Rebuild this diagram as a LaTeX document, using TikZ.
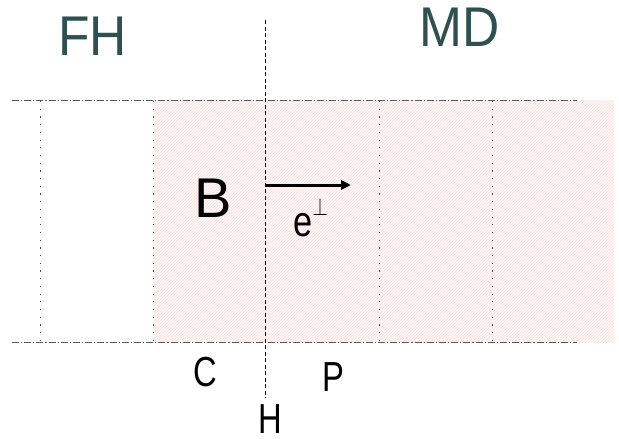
\documentclass[tikz,border=0pt]{standalone}
\usepackage{fontspec}
\setmainfont{Liberation Sans}
\usepackage{tikz}
\usetikzlibrary{patterns, arrows.meta}
\definecolor{slate}{RGB}{47,80,80}
\definecolor{zonebg}{RGB}{255,248,248}
\definecolor{zonehatch}{RGB}{252,222,222}
\tikzstyle{axis}  = [line width=1pt, draw=black!65,
                     dash pattern=on 7pt off 2pt on 1.2pt off 2pt]
\tikzstyle{split} = [line width=1pt, draw=black!70,
                     dash pattern=on 1.2pt off 6.5pt]
\tikzstyle{arrow} = [-{Triangle[length=10pt,width=9pt]}, line width=3pt]

\begin{document}
\begin{tikzpicture}[
  x=1pt, y=-1pt,
  big/.style={inner sep=0pt, font=\fontsize{56}{56}\selectfont},
  head/.style={big, text=slate, xscale=0.92},
  lab/.style={inner sep=0pt, font=\fontsize{42}{42}\selectfont, xscale=0.78}
]
\useasboundingbox (0,0) rectangle (619,439);
% hatched zone
\fill[zonebg] (153,100) rectangle (614,342);
\fill[pattern=north east lines, pattern color=zonehatch] (153,100) rectangle (614,342);
% boundary lines
\draw[axis] (12,100) -- (577,100);
\draw[axis] (12,342) -- (577,342);
\foreach \xx in {40,153,379,492}
  \draw[split] (\xx,101) -- (\xx,340);
\draw[line width=1pt, dash pattern=on 4pt off 2.5pt] (265,20) -- (265,398);
% labels
\node[head] (fh) at (92.5,36.5) {FH};
\node[head] (md) at (459.5,27) {MD};
\node[big]  (b)  at (213,198) {B};
\node[lab]  (c)  at (205.5,372.5) {C};
\node[lab]  (p)  at (333.5,377) {P};
\node[lab]  (h)  at (270,419) {H};
\node[inner sep=0pt, anchor=base west, xscale=0.8,
      font=\fontsize{43}{43}\selectfont] (e) at (293,236)
  {e\raisebox{21pt}{\fontsize{26}{26}\selectfont$\perp$}};
\coordinate (arrS) at (265,185);
\coordinate (arrE) at (351,185);
\draw[arrow] (arrS) -- (arrE);
\end{tikzpicture}
\end{document}
